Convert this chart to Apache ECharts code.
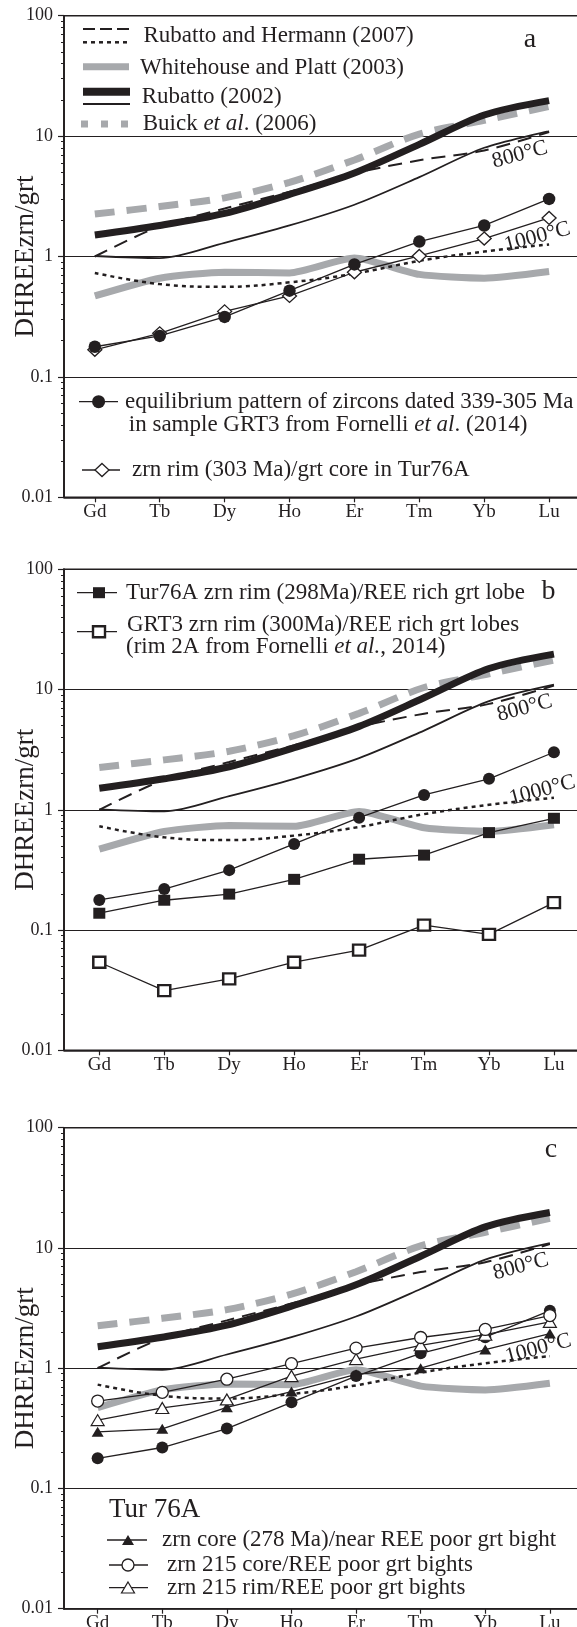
<!DOCTYPE html>
<html><head><meta charset="utf-8">
<script src="https://cdn.jsdelivr.net/npm/echarts@6/dist/echarts.min.js"></script>
<style>html,body{margin:0;padding:0;background:#fff}#wrap{position:relative;width:577px;height:1627px}#c,#g{position:absolute;left:0;top:0;width:577px;height:1627px}#g{pointer-events:none}</style>
</head><body><div id="wrap"><div id="c"></div><div id="g"></div></div>
<script>
// ---------- data ----------
const categories = ['Gd','Tb','Dy','Ho','Er','Tm','Yb','Lu'];
const yTickValues = [0.01, 0.1, 1, 10, 100];
const yTickLabels = ['0.01', '0.1', '1', '10', '100'];
const yMinorTicks = [0.02,0.03,0.04,0.05,0.06,0.07,0.08,0.09,0.2,0.3,0.4,0.5,0.6,0.7,0.8,0.9,2,3,4,5,6,7,8,9,20,30,40,50,60,70,80,90];
// reference patterns (all panels)
const rubattoHermann800 = [1.0, 1.78, 2.5, 3.45, 4.9, 6.3, 7.6, 10.8];
const rubattoHermann1000 = [0.73, 0.59, 0.56, 0.61, 0.72, 0.92, 1.10, 1.26];
const whitehousePlatt = [0.47, 0.66, 0.74, 0.73, 0.97, 0.71, 0.66, 0.75];
const rubatto2002Thick = [1.51, 1.81, 2.28, 3.28, 4.94, 8.54, 14.96, 19.7];
const rubatto2002Thin = [1.01, 0.97, 1.30, 1.81, 2.69, 4.56, 8.0, 10.97];
const buick2006 = [2.25, 2.6, 3.07, 4.13, 6.34, 10.4, 13.5, 17.6];
// equilibrium pattern GRT3 (all panels)
const equilibriumGRT3 = [0.178, 0.219, 0.315, 0.52, 0.86, 1.33, 1.81, 3.01];
// panel a
const zrnRim303 = [0.168, 0.23, 0.35, 0.47, 0.74, 1.01, 1.41, 2.09];
// panel b
const tur76aRim298 = [0.138, 0.177, 0.199, 0.264, 0.388, 0.42, 0.646, 0.85];
const grt3Rim300 = [0.054, 0.0314, 0.0393, 0.054, 0.068, 0.11, 0.092, 0.169];
// panel c
const zrnCore278 = [0.296, 0.313, 0.473, 0.64, 0.89, 1.0, 1.43, 1.94];
const zrn215Core = [0.533, 0.63, 0.81, 1.09, 1.47, 1.80, 2.10, 2.74];
const zrn215Rim = [0.37, 0.467, 0.55, 0.86, 1.19, 1.55, 1.90, 2.43];
// temperature annotations (category position, value)
const tempLabels = ['800°C', '1000°C'];
const tempLabelAt = [[6.55, 7.0], [6.82, 1.45]];

// ---------- layout / style ----------
const FONT = "'Liberation Serif','Times New Roman',serif";
const INK = '#231f20';
const GREY = '#a7a9ac';
const LF = 23; // legend font size
const GW = 515; // grid width (right edge just past the page edge)
// category i is drawn at x = i + 1 on a value axis
const panels = [
  {top: 15.7, height: 481.6, xMin: 0.525, xMax: 8.43},
  {top: 569.3, height: 481, xMin: 0.4565, xMax: 8.355},
  {top: 1127.7, height: 481, xMin: 0.479, xMax: 8.42}
];
const pairs = arr => arr.map((v, i) => [i + 1, v]);
const catPos = categories.map((c, i) => i + 1);

const grid = [], xAxis = [], yAxis = [], series = [];
panels.forEach((p, k) => {
  const xMax = p.xMin + (p.xMax - p.xMin) * GW / 513;
  grid.push({left: 64, width: GW, top: p.top, height: p.height, containLabel: false, outerBoundsMode: 'none',
    show: true, borderColor: INK, borderWidth: 1.5, backgroundColor: 'transparent'});
  xAxis.push({
    type: 'value', gridIndex: k, min: p.xMin, max: xMax,
    axisLine: {show: true, onZero: false, lineStyle: {color: INK, width: 1.5}},
    axisTick: {show: true, customValues: catPos, length: 5, lineStyle: {color: INK, width: 1.2}},
    axisLabel: {show: true, customValues: catPos, margin: 5, fontFamily: FONT, fontSize: 19, color: INK,
      formatter: v => categories[Math.round(v) - 1]},
    splitLine: {show: false}
  });
  yAxis.push({
    type: 'log', logBase: 10, gridIndex: k, min: 0.01, max: 100, position: 'left',
    name: 'DHREEzrn/grt', nameLocation: 'middle', nameRotate: 90, nameGap: 25, nameMoveOverlap: false,
    nameTextStyle: {fontFamily: FONT, fontSize: 27, color: INK},
    axisLine: {show: true, onZero: false, lineStyle: {color: INK, width: 1.5}},
    axisTick: {show: true, customValues: yTickValues, length: 6, lineStyle: {color: INK, width: 1.2}},
    axisLabel: {show: true, customValues: yTickValues, margin: 11, fontFamily: FONT, fontSize: 18, color: INK,
      formatter: v => yTickLabels[yTickValues.findIndex(t => Math.abs(Math.log10(t) - Math.log10(v)) < 1e-6)]},
    splitLine: {show: true, lineStyle: {color: INK, width: 1.2}}
  });
  // minor log ticks: an axis on the right side moved onto the left edge
  yAxis.push({
    type: 'log', logBase: 10, gridIndex: k, min: 0.01, max: 100, position: 'right', offset: -GW,
    axisLine: {show: false, onZero: false},
    axisTick: {show: true, inside: true, customValues: yMinorTicks, length: 3, lineStyle: {color: INK, width: 1}},
    axisLabel: {show: false},
    splitLine: {show: false}
  });
  const yi = 2 * k;
  const ref = (name, arr, ls, smooth) => series.push({
    name, type: 'line', xAxisIndex: k, yAxisIndex: yi, data: pairs(arr), symbol: 'none',
    smooth: smooth, lineStyle: ls, silent: true, z: 2
  });
  ref('Buick et al. (2006)', buick2006, {color: GREY, width: 7, type: [20, 12]}, 0.3);
  ref('Whitehouse and Platt (2003)', whitehousePlatt, {color: GREY, width: 7}, 0.2);
  ref('Rubatto and Hermann (2007) 800', rubattoHermann800, {color: INK, width: 2, type: [14, 8]}, 0.3);
  ref('Rubatto and Hermann (2007) 1000', rubattoHermann1000, {color: INK, width: 2.5, type: [4, 4]}, 0.4);
  ref('Rubatto (2002) thick', rubatto2002Thick, {color: INK, width: 7}, 0.3);
  ref('Rubatto (2002) thin', rubatto2002Thin, {color: INK, width: 1.8}, 0.3);
  const pts = (name, arr, symbol, size, fill, bw) => series.push({
    name, type: 'line', xAxisIndex: k, yAxisIndex: yi, data: pairs(arr),
    symbol, symbolSize: size, showSymbol: true,
    lineStyle: {color: INK, width: 1.3},
    itemStyle: {color: fill, borderColor: INK, borderWidth: bw, opacity: 1},
    z: 5
  });
  if (k === 0) {
    pts('zrn rim (303 Ma)/grt core in Tur76A', zrnRim303, 'diamond', [14, 13], '#fff', 1.3);
    pts('equilibrium GRT3', equilibriumGRT3, 'circle', 12.5, INK, 0);
  } else if (k === 1) {
    pts('equilibrium GRT3', equilibriumGRT3, 'circle', 12, INK, 0);
    pts('Tur76A zrn rim (298Ma)', tur76aRim298, 'rect', [12, 11], INK, 0);
    pts('GRT3 zrn rim (300Ma)', grt3Rim300, 'rect', [12, 11], '#fff', 2.4);
  } else {
    pts('equilibrium GRT3', equilibriumGRT3, 'circle', 12, INK, 0);
    pts('zrn core (278 Ma)', zrnCore278, 'triangle', [12, 10], INK, 0);
    pts('zrn 215 rim', zrn215Rim, 'triangle', [13, 11], '#fff', 1.2);
    pts('zrn 215 core', zrn215Core, 'circle', 12, '#fff', 1.3);
  }
});

const chart = echarts.init(document.getElementById('c'), null, {renderer: 'canvas'});
chart.setOption({
  animation: false, backgroundColor: '#fff',
  textStyle: {fontFamily: FONT},
  grid, xAxis, yAxis, series
});
chart.getZr().refreshImmediately();

// ---------- legends and annotations (overlay chart) ----------
const g = [];
const T = (x, y, text, size, extra) => g.push({type: 'text', x, y, silent: true, style: Object.assign({
  text, fontFamily: FONT, fontSize: size || LF, fill: INK,
  align: 'left', verticalAlign: 'middle', textAlign: 'left', textVerticalAlign: 'middle'}, extra || {})});
const RT = (x, y, parts) => {
  const txt = parts.map(p => '{' + (p[1] ? 'i' : 'n') + '|' + p[0] + '}').join('');
  g.push({type: 'text', x, y, silent: true, style: {
    text: txt, align: 'left', verticalAlign: 'middle', textAlign: 'left', textVerticalAlign: 'middle',
    rich: {n: {fontFamily: FONT, fontSize: LF, fill: INK, color: INK},
           i: {fontFamily: FONT, fontSize: LF, fontStyle: 'italic', fill: INK, color: INK}}}});
};
const L = (x1, y1, x2, y2, stroke, w, dash) => g.push({type: 'line', silent: true,
  shape: {x1, y1, x2, y2}, style: dash ? {stroke, lineWidth: w, lineDash: dash} : {stroke, lineWidth: w}});
// panel a
L(83, 29, 131, 29, INK, 2, [12, 5]);
L(83, 42.3, 131, 42.3, INK, 2.5, [4, 4]);
T(143.5, 35.5, 'Rubatto and Hermann (2007)');
L(83, 66.7, 129, 66.7, GREY, 7);
T(140, 67.5, 'Whitehouse and Platt (2003)');
L(83, 91.7, 130, 91.7, INK, 8);
L(83, 104, 130, 104, INK, 2);
T(141.7, 97, 'Rubatto (2002)');
L(81, 124, 133, 124, GREY, 7, [7, 13]);
RT(142.7, 124, [['Buick '], ['et al', 1], ['. (2006)']]);
T(530, 39.7, 'a', 28, {align: 'center', textAlign: 'center'});
L(79, 401.7, 118, 401.7, INK, 1.3);
g.push({type: 'circle', silent: true, shape: {cx: 98.6, cy: 401.7, r: 6.5}, style: {fill: INK}});
T(125, 401.7, 'equilibrium pattern of zircons dated 339-305 Ma');
RT(128.8, 424.8, [['in sample GRT3 from Fornelli '], ['et al', 1], ['. (2014)']]);
L(82, 470, 120, 470, INK, 1.3);
g.push({type: 'polygon', silent: true, shape: {points: [[102, 463.5], [109, 470], [102, 476.5], [95, 470]]}, style: {fill: '#fff', stroke: INK, lineWidth: 1.3}});
T(132, 470, 'zrn rim (303 Ma)/grt core in Tur76A');
// panel b
L(77, 592.7, 117, 592.7, INK, 1.3);
g.push({type: 'rect', silent: true, shape: {x: 93, y: 587.2, width: 12, height: 11}, style: {fill: INK}});
T(126, 592.7, 'Tur76A zrn rim (298Ma)/REE rich grt lobe');
L(77, 631.7, 117, 631.7, INK, 1.3);
g.push({type: 'rect', silent: true, shape: {x: 93, y: 626.2, width: 12, height: 11}, style: {fill: '#fff', stroke: INK, lineWidth: 2.4}});
T(127, 625, 'GRT3 zrn rim (300Ma)/REE rich grt lobes');
RT(126, 646.5, [['(rim 2A from Fornelli '], ['et al.', 1], [', 2014)']]);
T(548.4, 591.8, 'b', 28, {align: 'center', textAlign: 'center'});
// panel c
T(109, 1510, 'Tur 76A', 27);
L(107, 1540, 147, 1540, INK, 1.3);
g.push({type: 'polygon', silent: true, shape: {points: [[128, 1535], [134, 1545], [122, 1545]]}, style: {fill: INK}});
T(162, 1540, 'zrn core (278 Ma)/near REE poor grt bight');
L(109, 1565, 148, 1565, INK, 1.3);
g.push({type: 'circle', silent: true, shape: {cx: 128, cy: 1565, r: 6}, style: {fill: '#fff', stroke: INK, lineWidth: 1.3}});
T(167, 1565, 'zrn 215 core/REE poor grt bights');
L(109, 1587.7, 148, 1587.7, INK, 1.3);
g.push({type: 'polygon', silent: true, shape: {points: [[128, 1582], [134.5, 1593], [121.5, 1593]]}, style: {fill: '#fff', stroke: INK, lineWidth: 1.2}});
T(167, 1587.7, 'zrn 215 rim/REE poor grt bights');
T(551, 1150, 'c', 28, {align: 'center', textAlign: 'center'});
panels.forEach((p, k) => {
  // left axis line, reinforced from the main chart's own scale
  const lo = chart.convertToPixel({gridIndex: k}, [p.xMin, 0.01]);
  const hi = chart.convertToPixel({gridIndex: k}, [p.xMin, 100]);
  L(lo[0], lo[1] + 0.75, hi[0], hi[1] - 0.75, INK, 1.5);
  // temperature labels placed at data coordinates through the main chart's axes
  tempLabelAt.forEach((c, i) => {
    const px = chart.convertToPixel({gridIndex: k}, [c[0] + 1, c[1]]);
    g.push({type: 'text', x: px[0], y: px[1], rotation: 15 * Math.PI / 180, silent: true,
      style: {text: tempLabels[i], fontFamily: FONT, fontSize: 22, fill: INK,
        align: 'center', verticalAlign: 'middle', textAlign: 'center', textVerticalAlign: 'middle'}});
  });
});
const overlay = echarts.init(document.getElementById('g'), null, {renderer: 'canvas'});
overlay.setOption({animation: false, backgroundColor: 'transparent', graphic: {elements: g}});
overlay.getZr().refreshImmediately();
</script></body></html>
